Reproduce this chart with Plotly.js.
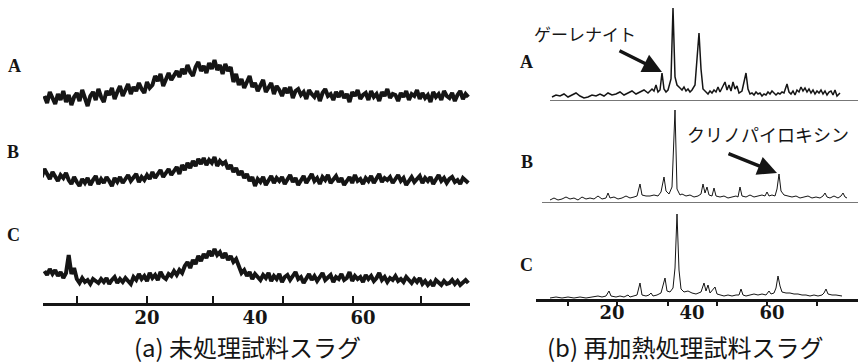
<!DOCTYPE html>
<html><head><meta charset="utf-8">
<script src="https://cdn.plot.ly/plotly-3.0.1.min.js"></script>
<style>html,body{margin:0;padding:0;background:#fff}#chart{width:858px;height:363px}</style>
</head><body><div id="chart"></div>
<script>
// ---------- (a) untreated slag : sampled every 0.5 deg 2θ ----------
const untreatedStep = 0.5;
const untreatedStarts = [1, 0, 1];
const untreatedA = [4,-3,8,1,-4,6,0,9,-2,5, -5,3,7,-1,10,2,-6,4,8,0, 11,3,-2,9,5,12,1,8,14,4,
  10,16,6,13,9,17,11,7,18,12, 15,24,19,26,14,22,27,20,25,29, 23,31,26,35,28,24,33,38,29,34,
  27,37,31,40,30,35,26,36,29,33, 18,26,15,21,12,19,24,13,17,9, 15,20,8,13,17,6,14,10,4,12,
  7,13,2,9,11,5,8,1,10,6, 3,9,-1,7,11,4,6,0,8,3, 9,2,6,-2,8,4,10,1,5,7,
  0,9,3,6,-1,8,4,11,2,6, 5,-1,7,3,9,0,6,4,10,1, 7,2,5,-2,8,3,6,0,9,4, 2,7,-1,5,9,1,6,3];
const untreatedB = [12,6,14,9,4,11,7,2,8,5, 10,3,-1,6,1,-3,4,0,5,-2, 3,7,-1,4,0,6,2,-3,5,1,
  6,0,4,8,2,5,9,1,6,3, 8,4,11,5,9,13,6,10,14,8, 12,16,9,18,13,20,15,22,17,24,
  19,25,18,23,20,26,17,22,19,21, 14,18,11,15,8,12,5,9,2,6, -3,4,1,6,-2,3,7,0,5,2,
  6,-1,4,8,1,5,-2,3,7,0, 4,9,2,5,-1,6,3,8,0,4, 7,1,5,-2,3,6,0,8,2,4,
  -1,5,2,7,0,4,9,1,5,3, 6,0,4,8,2,5,-2,3,6,1, 4,7,0,5,2,6,-1,3,8,2, 5,0,4,6,1,3,-1,5,2,0];
const untreatedC = [11,7,13,8,12,6,10,4,9,27, 8,14,3,-1,4,0,2,-2,3,1, -1,3,0,4,-2,2,5,-1,3,0,
  4,1,-2,5,2,8,3,6,1,9, 4,7,2,10,5,3,8,6,11,7, 12,9,16,20,14,22,18,26,21,28,
  24,31,26,33,27,30,24,29,22,26, 20,23,15,9,12,6,10,3,8,5, 2,7,4,9,1,6,3,8,0,5,
  7,2,6,10,3,5,-1,4,8,2, 6,1,5,9,2,4,7,0,5,3, 8,2,4,10,1,6,3,5,0,7,
  3,6,1,4,9,2,5,0,4,2, 6,1,3,0,5,2,-1,3,0,4, -2,1,-3,0,-4,2,-1,-3,1,-2, -1,2,-2,1,-3,0,2,-1];

// ---------- (b) reheated slag : 2θ positions and intensities ----------
const reheatedAx = [5,6,7,8,9,10,11,12,13,14,15,16,17,18,19,20,21,22,23,24,25,26,27,28,29,30,
  30.5,31,31.5,32,32.5,33,33.5,34,34.75,35.25,35.75,36.25,37,37.5,38,38.5,39,39.5,40,
  40.75,41.25,41.75,42.25,42.75,43.5,44,44.5,45,45.5,46,46.5,47,47.5,
  48.25,48.75,49.25,49.75,50.25,50.75,51.25,51.75,52.5,53.5,
  54,54.5,55,55.5,56,56.5,57,57.5,58,58.5,59,59.5,60,60.5,61,61.5,62,62.5,63,
  63.75,64.25,64.75,65.25,65.75,66.25,66.75,67.25,67.75,68.25,68.75,69.25,69.75,70.25,70.75,
  71.25,71.75,72.25,72.75,73.25,73.75,74.25,74.75,75.25,75.75,76.25,77];
const reheatedAy = [2,4,3,5,2,4,6,3,1,2,4,3,5,3,6,4,5,7,4,6,8,5,7,9,6,10,
  8,14,7,9,26,10,7,9,20,91,22,14,11,9,12,8,10,7,9,
  14,40,66,30,10,7,5,8,6,9,7,12,7,11,
  17,9,14,8,17,10,13,6,8,26,
  10,5,6,4,7,5,6,3,5,4,7,5,8,6,4,6,5,7,6,
  15,7,5,8,4,9,7,12,8,11,7,10,6,9,5,
  8,6,9,5,8,4,7,8,4,9,3,6];
const reheatedBx = [4.5,5.5,6.5,7.5,8.5,9.5,10.5,11.5,12.5,13.5,14.5,15.5,16.5,17.5,18.5,19,
  19.5,20.5,21.5,22.5,23.5,24.5,25.5,26.25,27,27.5,28.5,29.5,30.5,31.5,
  32.25,33,33.5,34.25,35,35.75,36.25,37,37.5,38.5,39.5,40.5,41.5,
  42.25,42.75,43.25,43.75,44.25,45,45.5,46,47,48,49,50,51,51.5,52,52.5,
  53.5,54.5,55.5,56.5,57.5,58.25,58.75,59.25,60,60.75,61.25,61.75,62.25,
  63,64,65,66,67,68,69,70,71,72,72.75,73.25,73.75,74.5,75.5,76.5,77.25,77.75,78.25,78.75];
const reheatedBy = [1,3,1,2,4,2,3,1,4,2,3,2,5,2,3,8,
  3,4,2,3,5,3,4,5,17,6,5,5,6,5,
  9,24,10,7,14,91,12,6,7,5,6,4,5,
  7,17,8,14,6,5,13,5,4,5,3,4,5,4,14,5,
  4,6,4,5,6,5,9,5,6,5,12,27,10,
  6,5,4,5,3,4,5,3,4,3,5,8,4,3,5,3,5,8,4,3];
const reheatedCx = [4.5,6,7.5,9,10.5,12,13.5,15,16.5,17.5,18.5,19.25,19.75,21,22,23,24,
  24.5,25.5,26.25,27,27.5,28.5,29.25,29.75,30.25,31.25,32.25,33.25,33.75,
  34.5,35.25,35.75,36.25,36.75,37.25,38,39,40,41,42.25,43,43.5,44,44.5,45.75,46.25,
  47,48,49,50,51,51.75,52.25,52.75,53.5,54.5,55.5,56.5,57.5,58.5,59.25,59.75,
  60.5,61,61.5,62,62.5,63.5,64.5,65.5,66.5,67.5,68.5,69.5,70.5,71.5,72.5,73,73.5,74,75,76,77,77.5];
const reheatedCy = [0,1,0,1,0,1,0,1,2,1,2,7,2,1,2,1,3,
  1,2,3,15,3,2,3,5,2,3,5,20,7,
  6,10,30,84,28,9,6,7,5,4,6,15,7,13,5,11,4,
  3,2,3,2,3,3,9,3,2,3,4,3,4,3,7,4,
  5,10,22,12,6,5,5,4,4,3,3,2,3,2,3,5,9,4,3,3,2,2];

// ---------- labels ----------
const sampleLabels = ['A', 'B', 'C'];
const axisLabelVals = [20, 40, 60];
const leftTickMarks = [7, 20, 32.2, 45.2, 58.1, 70.7];
const rightTickMarks = [9, 21.25, 34, 46.25, 58.75, 71.25];
const phaseNames = ['ゲーレナイト', 'クリノパイロキシン'];
const panelTitles = ['(a) 未処理試料スラグ', '(b) 再加熱処理試料スラグ'];

// ---------- build ----------
const W = 858, H = 363;
const px = v => v / W, py = v => (H - v) / H;
const leftOffsets = [203, 120, 21];
const rightOffsets = [200, 98, 1];
const ink = '#151515';

const traces = [];
[untreatedA, untreatedB, untreatedC].forEach((s, k) => {
  traces.push({x: s.map((_, i) => untreatedStarts[k] + i * untreatedStep),
    y: s.map(v => v + leftOffsets[k]), mode: 'lines', xaxis: 'x', yaxis: 'y',
    line: {color: ink, width: 4}, hoverinfo: 'skip', showlegend: false});
});
[[reheatedAx, reheatedAy, 1.5], [reheatedBx, reheatedBy, 1.0], [reheatedCx, reheatedCy, 1.0]].forEach((d, k) => {
  traces.push({x: d[0], y: d[1].map(v => v + rightOffsets[k]), mode: 'lines', xaxis: 'x2', yaxis: 'y2',
    line: {color: ink, width: d[2]}, hoverinfo: 'skip', showlegend: false});
});
traces.push({x: [], y: [], xaxis: 'x3', yaxis: 'y', showlegend: false});
traces.push({x: [], y: [], xaxis: 'x4', yaxis: 'y2', showlegend: false});

const leftDom = [43 / W, 470 / W], leftRange = [0.74, 79.81];
const rightDom = [536 / W, 1], rightRange = [1, 81.5];
const labelFont = {family: 'DejaVu Serif', size: 18, weight: 'bold', color: ink};

const shapes = [];
[reheatedAx, reheatedBx].forEach((xs, k) => {
  shapes.push({type: 'line', xref: 'x2', yref: 'y2', x0: xs[0] - (k ? 2 : 0.5), x1: rightRange[1],
    y0: rightOffsets[k] - 1.5, y1: rightOffsets[k] - 1.5, line: {color: '#777', width: 1}});
});

const annotations = [];
const leftLabelPos = [[14, 66], [13, 152], [13, 235]];
const rightLabelPos = [[526, 62], [527, 162], [526, 265]];
const put = (text, x, y, font, extra) => annotations.push(Object.assign({text: text, xref: 'paper', yref: 'paper',
  x: px(x), y: py(y), xanchor: 'center', yanchor: 'middle', showarrow: false, font: font}, extra || {}));
sampleLabels.forEach((t, k) => {
  [leftLabelPos, rightLabelPos].forEach(p => put(t, p[k][0], p[k][1],
    {family: 'Liberation Serif', size: 18, weight: 'bold', color: ink}));
});
put(phaseNames[0], 585, 34, {family: 'Noto Sans CJK JP', size: 17, color: ink});
put(phaseNames[1], 768, 134, {family: 'Noto Sans CJK JP', size: 18, color: ink});
const arrow = {showarrow: true, arrowhead: 2, arrowsize: 1.1, arrowwidth: 3.5, arrowcolor: ink, standoff: 0};
put('', 662, 72, {size: 10}, Object.assign({ax: -44, ay: -22}, arrow));
put('', 777, 173, {size: 10}, Object.assign({ax: -50, ay: -20}, arrow));
const titleFont = {family: 'Noto Sans CJK JP', size: 24, color: ink};
put(panelTitles[0], 247, 346.5, titleFont);
put(panelTitles[1], 685, 346, titleFont);

const baseAxis = {showgrid: false, zeroline: false, fixedrange: true};
const layout = {
  width: W, height: H, margin: {l: 0, r: 0, t: 0, b: 0},
  paper_bgcolor: '#fff', plot_bgcolor: 'rgba(0,0,0,0)', showlegend: false,
  xaxis: Object.assign({}, baseAxis, {domain: leftDom, range: leftRange, anchor: 'y',
    showline: true, linewidth: 3, linecolor: ink, ticks: 'inside', ticklen: 7, tickwidth: 2.5, tickcolor: ink,
    tickmode: 'array', tickvals: leftTickMarks, showticklabels: false}),
  xaxis3: Object.assign({}, baseAxis, {domain: leftDom, range: leftRange, anchor: 'y', overlaying: 'x',
    showline: false, ticks: '', tickmode: 'array', tickvals: axisLabelVals, ticktext: axisLabelVals.map(String),
    tickfont: labelFont, ticklabelstandoff: 2}),
  yaxis: Object.assign({}, baseAxis, {domain: [60 / H, 1], range: [0, 303], visible: false, anchor: 'x'}),
  xaxis2: Object.assign({}, baseAxis, {domain: rightDom, range: rightRange, anchor: 'y2',
    showline: true, linewidth: 3, linecolor: ink, ticks: 'outside', ticklen: 4, tickwidth: 2.5, tickcolor: ink,
    tickmode: 'array', tickvals: rightTickMarks, showticklabels: false}),
  xaxis4: Object.assign({}, baseAxis, {domain: rightDom, range: rightRange, anchor: 'y2', overlaying: 'x2',
    showline: false, ticks: '', tickmode: 'array', tickvals: axisLabelVals, ticktext: axisLabelVals.map(String),
    tickfont: labelFont, ticklabelstandoff: 1}),
  yaxis2: Object.assign({}, baseAxis, {domain: [64 / H, 1], range: [0, 299], visible: false, anchor: 'x2'}),
  shapes: shapes, annotations: annotations
};
Plotly.newPlot('chart', traces, layout, {staticPlot: true, displayModeBar: false});
</script></body></html>
